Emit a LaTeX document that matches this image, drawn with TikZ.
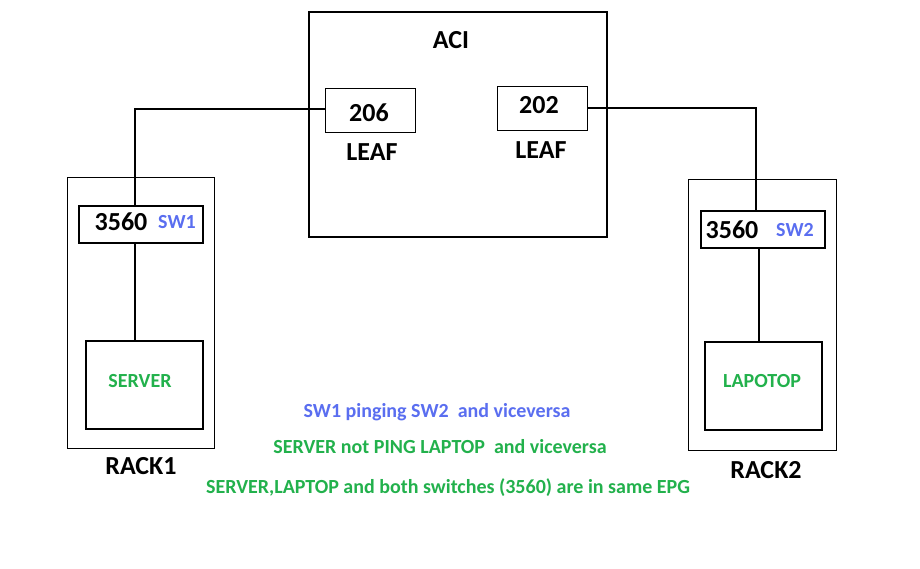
\documentclass[tikz,border=0pt]{standalone}
\usepackage{fontspec}
\setmainfont{Carlito}
\definecolor{swblue}{HTML}{5A6EF0}
\definecolor{okgreen}{HTML}{22B14C}
\begin{document}
\begin{tikzpicture}[x=1pt,y=-1pt,
  box/.style={draw, inner sep=0pt, anchor=north west},
  thickbox/.style={box, line width=2pt},
  thinbox/.style={box, line width=1pt},
  wire/.style={line width=2pt},
  big/.style={font=\fontsize{26}{30}\selectfont\bfseries, text=black, inner sep=0pt},
  small/.style={font=\fontsize{20}{24}\selectfont\bfseries, inner sep=0pt}]
\useasboundingbox[fill=white] (0,0) rectangle (920,568);
% ACI fabric
\node[thickbox, minimum width=298pt, minimum height=225pt] (aci) at (308,11) {};
\node[big] (acilbl) at (451,40) {ACI};
\node[thinbox, minimum width=90pt, minimum height=44pt] (leafa) at (325,88) {};
\node[big] (leafanum) at (369,113) {206};
\node[big] (leafalbl) at (372,152) {LEAF};
\node[thinbox, minimum width=90pt, minimum height=44pt] (leafb) at (497,86) {};
\node[big] (leafbnum) at (539,105) {202};
\node[big] (leafblbl) at (541,150) {LEAF};
% Rack 1
\node[thinbox, minimum width=147pt, minimum height=271pt] (rack1) at (67,177) {};
\node[thickbox, minimum width=124pt, minimum height=37pt] (sw1) at (78,205) {};
\node[big] (sw1num) at (121,222) {3560};
\node[small, text=swblue] (sw1lbl) at (177,222) {SW1};
\node[thickbox, minimum width=117pt, minimum height=88pt] (server) at (85,340) {};
\node[small, text=okgreen] (serverlbl) at (140,381) {SERVER};
\node[big] (rack1lbl) at (141,466) {RACK1};
% Rack 2
\node[thinbox, minimum width=148pt, minimum height=271pt] (rack2) at (688,179) {};
\node[thickbox, minimum width=124pt, minimum height=37pt] (sw2) at (700,210) {};
\node[big] (sw2num) at (732,230) {3560};
\node[small, text=swblue] (sw2lbl) at (795,230) {SW2};
\node[thickbox, minimum width=117pt, minimum height=88pt] (laptop) at (704,341) {};
\node[small, text=okgreen] (laptoplbl) at (762,381) {LAPOTOP};
\node[big] (rack2lbl) at (766,470) {RACK2};
% connectors
\draw[wire] ([yshift=2pt]leafa.west) -| ([xshift=-6pt]sw1.north);
\draw[wire] ([xshift=-6pt]sw1.south) -- ([xshift=-9.5pt]server.north);
\draw[wire] ([yshift=1pt]leafb.east) -| ([xshift=-7pt]sw2.north);
\draw[wire] ([xshift=-4pt]sw2.south) -- ([xshift=-4.5pt]laptop.north);
% notes
\node[small, text=swblue] (note1) at (437,412) {SW1 pinging SW2\ \ and viceversa};
\node[small, text=okgreen] (note2) at (440,447) {SERVER not PING LAPTOP\ \ and viceversa};
\node[small, text=okgreen] (note3) at (448,488) {SERVER,LAPTOP and both switches (3560) are in same EPG};
\end{tikzpicture}
\end{document}
